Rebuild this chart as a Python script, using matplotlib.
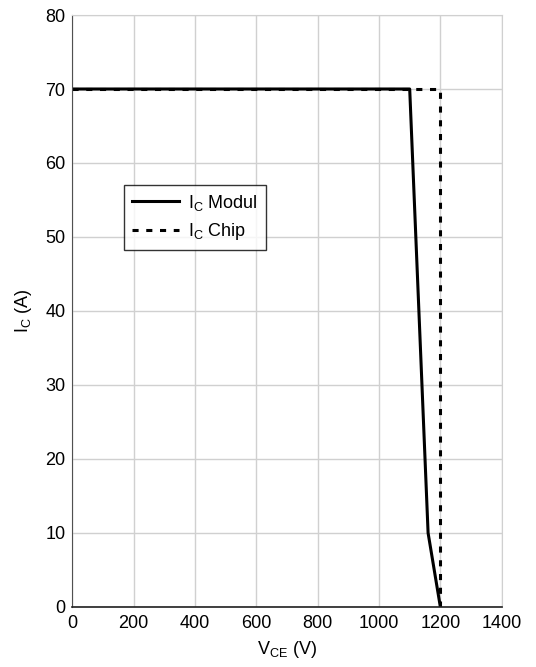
import matplotlib.pyplot as plt

plt.rcParams['font.family'] = ['Liberation Sans', 'DejaVu Sans']

# Daten
modul_v = [0, 1100, 1160, 1200]
modul_i = [70, 70, 10, 0]
chip_v = [0, 1200, 1200]
chip_i = [70, 70, 0]
x_ticks = [0, 200, 400, 600, 800, 1000, 1200, 1400]
y_ticks = [0, 10, 20, 30, 40, 50, 60, 70, 80]

fig = plt.figure(figsize=(5.36, 6.67), dpi=100)
ax = fig.add_axes([0.135, 0.09, 0.801, 0.8875])

ax.plot(modul_v, modul_i, color='black', lw=2.2, label=r'I$_\mathregular{C}$ Modul')
ax.plot(chip_v, chip_i, color='black', lw=2.2, linestyle=(0, (2, 2.5)),
        label=r'I$_\mathregular{C}$ Chip')

ax.set_xlim(0, 1400)
ax.set_ylim(0, 80)
ax.set_xticks(x_ticks)
ax.set_yticks(y_ticks)
ax.grid(True, color='#d0d0d0', lw=1)
ax.set_axisbelow(True)
ax.tick_params(length=0, labelsize=13)
ax.tick_params(axis='x', pad=6)
ax.tick_params(axis='y', pad=5)

for s in ['top', 'right']:
    ax.spines[s].set_color('#d0d0d0')
ax.spines['left'].set_color('#505050')
ax.spines['bottom'].set_color('#202020')
ax.spines['bottom'].set_linewidth(1.2)

ax.set_xlabel(r'V$_\mathregular{CE}$ (V)', fontsize=13, labelpad=5)
ax.set_ylabel(r'I$_\mathregular{C}$ (A)', fontsize=13, labelpad=8)

leg = ax.legend(loc='lower left', bbox_to_anchor=(0.12, 0.603), fontsize=13,
                frameon=True, fancybox=False, edgecolor='black',
                handlelength=2.6, borderpad=0.45, labelspacing=0.45,
                handletextpad=0.5, borderaxespad=0)
leg.get_frame().set_linewidth(1)

fig.savefig('out.png', dpi=100)
